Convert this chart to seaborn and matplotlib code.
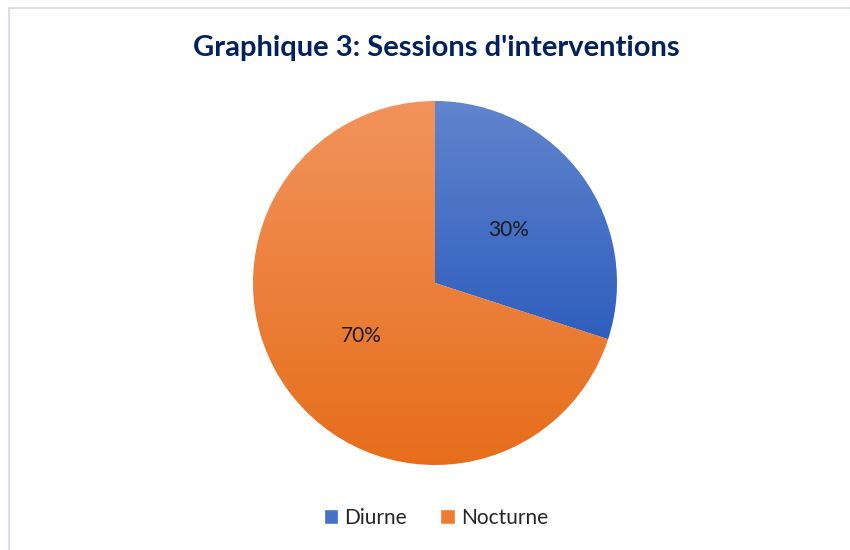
import matplotlib.pyplot as plt
import numpy as np
import seaborn as sns
from matplotlib.colors import to_rgb
from matplotlib.patches import Patch, Rectangle

TITLE = "Graphique 3: Sessions d'interventions"
CATEGORIES = ["Diurne", "Nocturne"]
SHARES = [30, 70]
TOP_COLORS = ["#6185CD", "#F2935C"]
BOTTOM_COLORS = ["#2F5EBE", "#E66E1B"]
BASE_COLORS = ["#4472C4", "#ED7D31"]


def gradient(top, bottom, n=256):
    t = np.linspace(0, 1, n)[:, None]
    top, bottom = np.array(to_rgb(top)), np.array(to_rgb(bottom))
    return (top * (1 - t) + bottom * t)[:, None, :]


def main() -> None:
    sns.set_theme(style="white")
    plt.rcParams["font.family"] = ["Lato", "DejaVu Sans"]

    fig = plt.figure(figsize=(8.5, 5.5), dpi=100)
    fig.patch.set_facecolor("white")
    fig.patches.append(
        Rectangle((8.5 / 850, -0.1), 2, 1.1 - 8.5 / 550, transform=fig.transFigure,
                  fill=False, edgecolor="#DADFE6", linewidth=1.5)
    )

    ax = fig.add_axes([253 / 850, 85 / 550, 364 / 850, 364 / 550])
    wedges, texts, autotexts = ax.pie(
        SHARES,
        startangle=90,
        counterclock=False,
        autopct="%d%%",
        pctdistance=0.5,
        colors=BASE_COLORS,
        wedgeprops={"edgecolor": "white", "linewidth": 1},
        textprops={"fontsize": 15, "color": "#1a1a1a"},
    )
    # Excel-style vertical gradient fill, one per slice over its own extent
    for wedge, top, bottom in zip(wedges, TOP_COLORS, BOTTOM_COLORS):
        box = wedge.get_path().get_extents()
        img = ax.imshow(gradient(top, bottom), extent=(box.x0, box.x1, box.y0, box.y1),
                        aspect="auto", zorder=wedge.get_zorder() + 0.1)
        img.set_clip_path(wedge)
    for t in autotexts:
        t.set_zorder(5)
    ax.set_xlim(-1, 1)
    ax.set_ylim(-1, 1)
    ax.axis("off")

    fig.text(436 / 850, 1 - 48 / 550, TITLE, ha="center", va="center",
             fontsize=21, fontweight="bold", color="#002060")

    handles = [Patch(facecolor=c) for c in BASE_COLORS]
    fig.legend(handles, CATEGORIES, loc="center", bbox_to_anchor=(436 / 850, 1 - 518 / 550),
               ncol=2, frameon=False, fontsize=15, handlelength=0.7, handleheight=0.7,
               handletextpad=0.3, columnspacing=1.6)

    fig.savefig("out.png", dpi=100)
    plt.close(fig)


if __name__ == "__main__":
    main()
